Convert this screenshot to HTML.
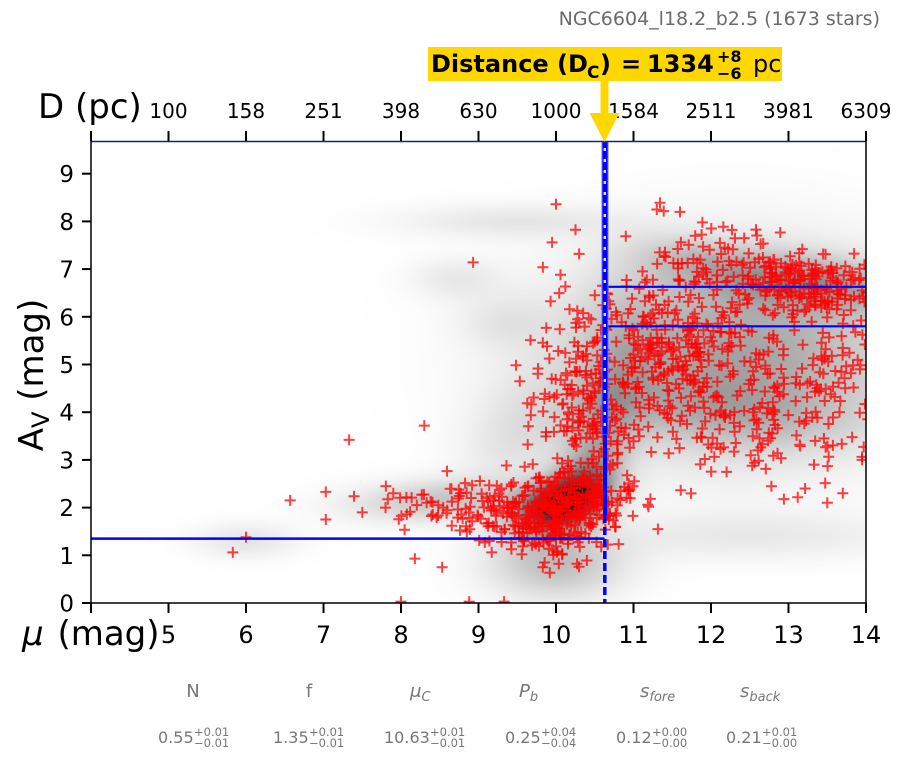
<!DOCTYPE html>
<html><head><meta charset="utf-8">
<style>
html,body{margin:0;padding:0;background:#fff;}
#wrap{position:relative;width:902px;height:759px;overflow:hidden;background:#fff;}
canvas{position:absolute;left:91px;top:141px;}
svg{position:absolute;left:0;top:0;}
text{font-family:"DejaVu Sans","Liberation Sans",sans-serif;}
</style></head><body>
<div id="wrap">
<canvas id="c" width="775" height="462"></canvas>
<svg id="s" width="902" height="759" xmlns="http://www.w3.org/2000/svg">
<defs><clipPath id="clip"><rect x="91" y="141" width="775" height="462"/></clipPath></defs>

<text x="880" y="25" font-size="19" fill="#6b6b6b" text-anchor="end">NGC6604_l18.2_b2.5 (1673 stars)</text>

<g id="markers" clip-path="url(#clip)"></g>

<g clip-path="url(#clip)">
<line x1="91" y1="538.6" x2="604.5" y2="538.6" stroke="#0000ff" stroke-width="2.5"/>
<line x1="604.5" y1="286.8" x2="866" y2="286.8" stroke="#0000ff" stroke-width="2.2"/>
<line x1="604.5" y1="326.3" x2="866" y2="326.3" stroke="#0000ff" stroke-width="2.2"/>
<rect x="602" y="142" width="6" height="293" fill="#0000ff" stroke="#6f6fff" stroke-width="1"/>
<g id="wd"></g>
<line x1="605" y1="435" x2="605" y2="515" stroke="#0000ff" stroke-width="4"/>
<line x1="604.8" y1="515" x2="604.8" y2="603" stroke="#0000ff" stroke-width="3.5" stroke-dasharray="8,4"/>
</g>
<line x1="91" y1="141.5" x2="866" y2="141.5" stroke="#202070" stroke-width="1.5"/>

<line x1="91" y1="141" x2="91" y2="604" stroke="#000" stroke-width="1.5"/>
<line x1="866" y1="141" x2="866" y2="604" stroke="#000" stroke-width="1.5"/>
<line x1="90.3" y1="603" x2="866.7" y2="603" stroke="#000" stroke-width="1.5"/>

<g stroke="#000" stroke-width="2">
<line x1="91" y1="603" x2="91" y2="613"/><line x1="168.5" y1="603" x2="168.5" y2="613"/><line x1="246" y1="603" x2="246" y2="613"/><line x1="323.5" y1="603" x2="323.5" y2="613"/><line x1="401" y1="603" x2="401" y2="613"/><line x1="478.5" y1="603" x2="478.5" y2="613"/><line x1="556" y1="603" x2="556" y2="613"/><line x1="633.5" y1="603" x2="633.5" y2="613"/><line x1="711" y1="603" x2="711" y2="613"/><line x1="788.5" y1="603" x2="788.5" y2="613"/><line x1="866" y1="603" x2="866" y2="613"/>
<line x1="91" y1="141" x2="91" y2="131"/><line x1="168.5" y1="141" x2="168.5" y2="131"/><line x1="246" y1="141" x2="246" y2="131"/><line x1="323.5" y1="141" x2="323.5" y2="131"/><line x1="401" y1="141" x2="401" y2="131"/><line x1="478.5" y1="141" x2="478.5" y2="131"/><line x1="556" y1="141" x2="556" y2="131"/><line x1="633.5" y1="141" x2="633.5" y2="131"/><line x1="711" y1="141" x2="711" y2="131"/><line x1="788.5" y1="141" x2="788.5" y2="131"/><line x1="866" y1="141" x2="866" y2="131"/>
<line x1="82" y1="603" x2="91" y2="603"/><line x1="82" y1="555.3" x2="91" y2="555.3"/><line x1="82" y1="507.6" x2="91" y2="507.6"/><line x1="82" y1="459.9" x2="91" y2="459.9"/><line x1="82" y1="412.2" x2="91" y2="412.2"/><line x1="82" y1="364.5" x2="91" y2="364.5"/><line x1="82" y1="316.8" x2="91" y2="316.8"/><line x1="82" y1="269.1" x2="91" y2="269.1"/><line x1="82" y1="221.4" x2="91" y2="221.4"/><line x1="82" y1="173.7" x2="91" y2="173.7"/>
</g>

<g font-size="23" text-anchor="end" fill="#000">
<text x="74" y="611.5">0</text><text x="74" y="563.8">1</text><text x="74" y="516.1">2</text><text x="74" y="468.4">3</text><text x="74" y="420.7">4</text><text x="74" y="373">5</text><text x="74" y="325.3">6</text><text x="74" y="277.6">7</text><text x="74" y="229.9">8</text><text x="74" y="182.2">9</text>
</g>
<g font-size="24" text-anchor="middle" fill="#000">
<text x="168.5" y="643">5</text><text x="246" y="643">6</text><text x="323.5" y="643">7</text><text x="401" y="643">8</text><text x="478.5" y="643">9</text><text x="556" y="643">10</text><text x="633.5" y="643">11</text><text x="711" y="643">12</text><text x="788.5" y="643">13</text><text x="866" y="643">14</text>
</g>
<g font-size="20" text-anchor="middle" fill="#000">
<text x="168.5" y="118">100</text><text x="246" y="118">158</text><text x="323.5" y="118">251</text><text x="401" y="118">398</text><text x="478.5" y="118">630</text><text x="556" y="118">1000</text><text x="633.5" y="118">1584</text><text x="711" y="118">2511</text><text x="788.5" y="118">3981</text><text x="866" y="118">6309</text>
</g>

<text x="38" y="118" font-size="34">D (pc)</text>
<text x="22" y="645" font-size="34"><tspan font-style="italic">μ</tspan><tspan dx="3"> (mag)</tspan></text>
<text transform="translate(43,375) rotate(-90)" font-size="34" text-anchor="middle">A<tspan font-size="24" dy="6">V</tspan><tspan dy="-6"> (mag)</tspan></text>

<rect x="428" y="47" width="354" height="34" fill="#ffd700"/>
<rect x="600.5" y="80" width="8" height="34" fill="#ffd700"/>
<polygon points="589.5,113 619.5,113 604.5,142" fill="#ffd700"/>
<text x="431" y="72" font-size="24" font-weight="bold">Distance (D</text>
<text x="587" y="78" font-size="17" font-weight="bold">C</text>
<text x="600" y="72" font-size="24" font-weight="bold">)</text>
<text x="621" y="72" font-size="24" font-weight="bold">=</text>
<text x="647" y="72" font-size="24" font-weight="bold">1334</text>
<text x="717" y="62" font-size="16" font-weight="bold">+8</text>
<text x="717" y="79" font-size="16" font-weight="bold">−6</text>
<text x="753" y="72" font-size="24">pc</text>

<g fill="#777" font-size="18">
<text x="193" y="697" text-anchor="middle">N</text>
<text x="309" y="697" text-anchor="middle">f</text>
<text x="410" y="697"><tspan font-style="italic">μ</tspan><tspan font-size="13" dy="4" font-style="italic">C</tspan></text>
<text x="519" y="697"><tspan font-style="italic">P</tspan><tspan font-size="13" dy="4" font-style="italic">b</tspan></text>
<text x="640" y="697"><tspan font-style="italic">s</tspan><tspan font-size="13" dy="4" font-style="italic">fore</tspan></text>
<text x="740" y="697"><tspan font-style="italic">s</tspan><tspan font-size="13" dy="4" font-style="italic">back</tspan></text>
</g>
<g fill="#777">
<text x="158" y="743" font-size="16">0.55</text><text x="194" y="736" font-size="11.5">+0.01</text><text x="194" y="747" font-size="11.5">−0.01</text>
<text x="273" y="743" font-size="16">1.35</text><text x="309" y="736" font-size="11.5">+0.01</text><text x="309" y="747" font-size="11.5">−0.01</text>
<text x="384" y="743" font-size="16">10.63</text><text x="430" y="736" font-size="11.5">+0.01</text><text x="430" y="747" font-size="11.5">−0.01</text>
<text x="505" y="743" font-size="16">0.25</text><text x="541" y="736" font-size="11.5">+0.04</text><text x="541" y="747" font-size="11.5">−0.04</text>
<text x="616" y="743" font-size="16">0.12</text><text x="652" y="736" font-size="11.5">+0.00</text><text x="652" y="747" font-size="11.5">−0.00</text>
<text x="726" y="743" font-size="16">0.21</text><text x="762" y="736" font-size="11.5">+0.01</text><text x="762" y="747" font-size="11.5">−0.00</text>
</g>
</svg>
</div>
<script>
(function(){
  var comps=[
    [10.05,2.05,0.4,0.4,0.35,0.8],
    [10.35,2.5,0.3,0.5,0.5,0.3],
    [10.6,3.8,0.35,0.9,0.4,0.22],
    [12.3,5.2,1.5,1.4,0,0.36],
    [13.3,6.7,0.9,0.4,-0.3,0.3],
    [11.8,7.2,0.6,0.35,-0.3,0.14],
    [12.2,4.0,1.2,0.5,-0.3,0.12],
    [12.5,1.4,1.5,0.35,0,0.08],
    [8.5,2.15,0.8,0.3,0.2,0.22],
    [6.0,1.3,0.45,0.25,0,0.1],
    [9.4,8.0,1.0,0.25,0,0.09],
    [8.7,6.8,0.4,0.3,0,0.08],
    [9.3,5.9,0.4,0.4,0,0.07],
    [10.0,0.8,0.6,0.5,0,0.25],
    [9.5,3.5,0.5,0.8,0.3,0.1],
    [10.9,5.6,0.4,0.9,0,0.08]
  ];
  var c=document.getElementById('c');
  var ctx=c.getContext('2d');
  var W=775,H=462;
  var img=ctx.createImageData(W,H);
  var d=img.data;
  for(var py=0;py<H;py++){
    var av=(603-(141+py+0.5))/47.7;
    for(var px=0;px<W;px++){
      var mu=4+(px+0.5)/77.5;
      var s=0;
      for(var k=0;k<comps.length;k++){
        var cp=comps[k];
        var dx=(mu-cp[0])/cp[2],dy=(av-cp[1])/cp[3],r=cp[4];
        var q=(dx*dx-2*r*dx*dy+dy*dy)/(1-r*r);
        if(q<30) s+=cp[5]*Math.exp(-0.5*q);
      }
      var v=Math.min(s,0.9);
      var g=Math.round(255*(1-v));
      var i=(py*W+px)*4;
      d[i]=g;d[i+1]=g;d[i+2]=g;d[i+3]=255;
    }
  }
  ctx.putImageData(img,0,0);

  var seed=12345;
  function rnd(){seed|=0;seed=seed+0x6D2B79F5|0;var t=Math.imul(seed^seed>>>15,1|seed);t=t+Math.imul(t^t>>>7,61|t)^t;return((t^t>>>14)>>>0)/4294967296;}
  function gauss(){var u=rnd()||1e-9,v=rnd();return Math.sqrt(-2*Math.log(u))*Math.cos(2*Math.PI*v);}
  var clusters=[
    [300,10.1,2.0,0.42,0.4,0.25],
    [80,9.4,2.0,0.35,0.3,0],
    [50,8.5,2.05,0.45,0.28,0],
    [45,10.0,1.2,0.35,0.3,0],
    [150,10.5,3.9,0.3,1.0,0.2],
    [220,11.4,5.4,0.6,0.8,0],
    [210,13.1,6.7,0.6,0.38,-0.2],
    [70,12.0,7.2,0.6,0.45,0],
    [170,12.6,4.8,0.85,0.8,0],
    [80,12.4,3.6,0.95,0.5,0],
    [40,13.8,4.5,0.3,1.0,0],
    [50,10.1,4.6,0.35,1.1,0]
  ];
  var pts=[[5.83,1.06],[6.0,1.38],[6.57,2.15],[7.03,2.33],[7.03,1.75],[7.33,3.42],[8.3,3.72],[8.93,7.14],[10.0,8.36],[9.95,7.56],[8.18,0.93],[8.0,0.03],[8.88,0.03],[9.33,0.03],[8.53,0.75],[9.17,1.06],[13.95,3.0],[13.5,2.1],[13.7,2.3],[11.3,8.25],[11.6,8.2],[7.5,1.9],[7.8,2.0],[7.9,2.3]];
  for(var ci=0;ci<clusters.length;ci++){
    var cl=clusters[ci];
    for(var n=0;n<cl[0];n++){
      var z1=gauss(),z2=gauss();
      var r=cl[5];
      var x=cl[1]+cl[3]*z1;
      var y=cl[2]+cl[4]*(r*z1+Math.sqrt(1-r*r)*z2);
      if(y<-0.2||y>8.6) continue;
      pts.push([x,y]);
    }
  }
  var ns='http://www.w3.org/2000/svg';
  var g=document.getElementById('markers');
  var chunk=60;
  for(var st=0;st<pts.length;st+=chunk){
    var path='';
    for(var j=st;j<Math.min(pts.length,st+chunk);j++){
      var X=91+(pts[j][0]-4)*77.5, Y=603-pts[j][1]*47.7;
      path+='M'+(X-5.5).toFixed(1)+' '+Y.toFixed(1)+'h11M'+X.toFixed(1)+' '+(Y-5.5).toFixed(1)+'v11';
    }
    var p=document.createElementNS(ns,'path');
    p.setAttribute('d',path);
    p.setAttribute('stroke','#ff0000');
    p.setAttribute('stroke-opacity','0.75');
    p.setAttribute('stroke-width','2');
    p.setAttribute('fill','none');
    g.appendChild(p);
  }

  var wd=document.getElementById('wd');
  for(var yy=148;yy<432;yy+=11){
    var rr=document.createElementNS(ns,'rect');
    rr.setAttribute('x','603.6');rr.setAttribute('y',yy);
    rr.setAttribute('width','2.4');rr.setAttribute('height','3');
    rr.setAttribute('fill','#dde');
    wd.appendChild(rr);
  }
})();
</script>
</body></html>
